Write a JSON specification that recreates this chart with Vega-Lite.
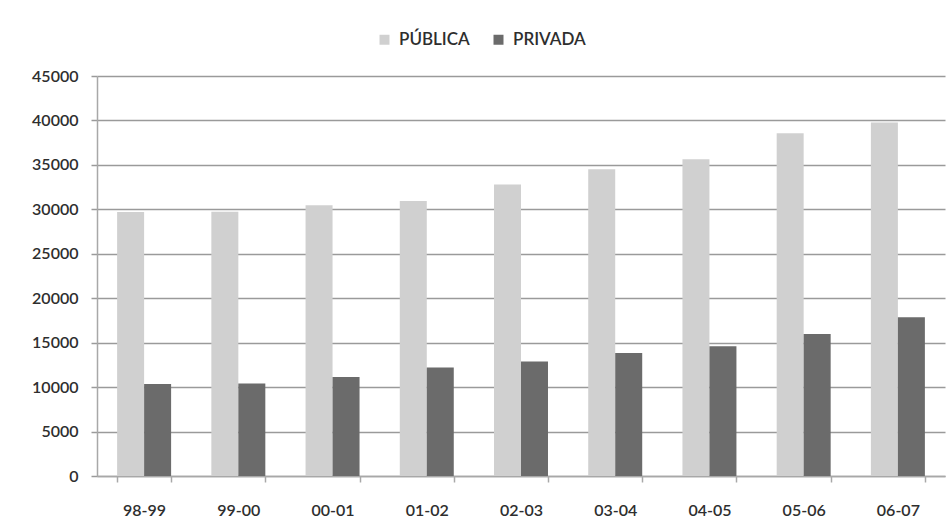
{
  "$schema": "https://vega.github.io/schema/vega-lite/v6.json",
  "width": 848,
  "height": 400,
  "autosize": {"type": "none"},
  "padding": {"left": 97, "top": 76, "right": 6, "bottom": 51},
  "background": "white",
  "config": {
    "view": {"stroke": null},
    "font": "Lato",
    "axis": {"labelFont": "Lato", "labelColor": "#2e2e2e", "labelFontSize": 16, "labelFontWeight": 600},
    "legend": {"labelFont": "Lato", "labelColor": "#2e2e2e", "labelFontSize": 17, "labelFontWeight": 600}
  },
  "data": {
    "values": [
      {"curso": "98-99", "tipo": "PÚBLICA", "valor": 29700},
      {"curso": "98-99", "tipo": "PRIVADA", "valor": 10340},
      {"curso": "99-00", "tipo": "PÚBLICA", "valor": 29740},
      {"curso": "99-00", "tipo": "PRIVADA", "valor": 10410},
      {"curso": "00-01", "tipo": "PÚBLICA", "valor": 30450},
      {"curso": "00-01", "tipo": "PRIVADA", "valor": 11130},
      {"curso": "01-02", "tipo": "PÚBLICA", "valor": 30940},
      {"curso": "01-02", "tipo": "PRIVADA", "valor": 12220},
      {"curso": "02-03", "tipo": "PÚBLICA", "valor": 32780},
      {"curso": "02-03", "tipo": "PRIVADA", "valor": 12890},
      {"curso": "03-04", "tipo": "PÚBLICA", "valor": 34510},
      {"curso": "03-04", "tipo": "PRIVADA", "valor": 13830},
      {"curso": "04-05", "tipo": "PÚBLICA", "valor": 35640},
      {"curso": "04-05", "tipo": "PRIVADA", "valor": 14590},
      {"curso": "05-06", "tipo": "PÚBLICA", "valor": 38570},
      {"curso": "05-06", "tipo": "PRIVADA", "valor": 15980},
      {"curso": "06-07", "tipo": "PÚBLICA", "valor": 39770},
      {"curso": "06-07", "tipo": "PRIVADA", "valor": 17860}
    ]
  },
  "mark": {"type": "bar"},
  "encoding": {
    "x": {
      "field": "curso",
      "type": "nominal",
      "sort": null,
      "scale": {"paddingInner": 0.427, "paddingOuter": 0.2135},
      "axis": {
        "title": null,
        "labelAngle": 0,
        "labelPadding": 20,
        "domainColor": "#a8a8a8",
        "domainWidth": 1.5,
        "tickBand": "extent",
        "tickColor": "#a8a8a8",
        "tickWidth": 1.5,
        "tickSize": 6,
        "grid": false
      }
    },
    "xOffset": {
      "field": "tipo",
      "type": "nominal",
      "sort": ["PÚBLICA", "PRIVADA"],
      "scale": {"paddingInner": 0, "paddingOuter": 0}
    },
    "y": {
      "field": "valor",
      "type": "quantitative",
      "scale": {"domain": [0, 45000], "nice": false},
      "axis": {
        "title": null,
        "values": [0, 5000, 10000, 15000, 20000, 25000, 30000, 35000, 40000, 45000],
        "format": "d",
        "grid": true,
        "gridColor": "#9a9a9a",
        "gridWidth": 1.5,
        "domainColor": "#a8a8a8",
        "domainWidth": 1.5,
        "tickColor": "#9a9a9a",
        "tickWidth": 1.5,
        "tickSize": 6,
        "labelPadding": 13
      }
    },
    "color": {
      "field": "tipo",
      "type": "nominal",
      "sort": ["PÚBLICA", "PRIVADA"],
      "scale": {"domain": ["PÚBLICA", "PRIVADA"], "range": ["#d0d0d0", "#6b6b6b"]},
      "legend": {
        "title": null,
        "orient": "none",
        "direction": "horizontal",
        "legendX": 279,
        "legendY": -45,
        "symbolType": "square",
        "symbolSize": 100,
        "symbolStrokeWidth": 0,
        "columnPadding": 20,
        "labelOffset": 6
      }
    }
  }
}
